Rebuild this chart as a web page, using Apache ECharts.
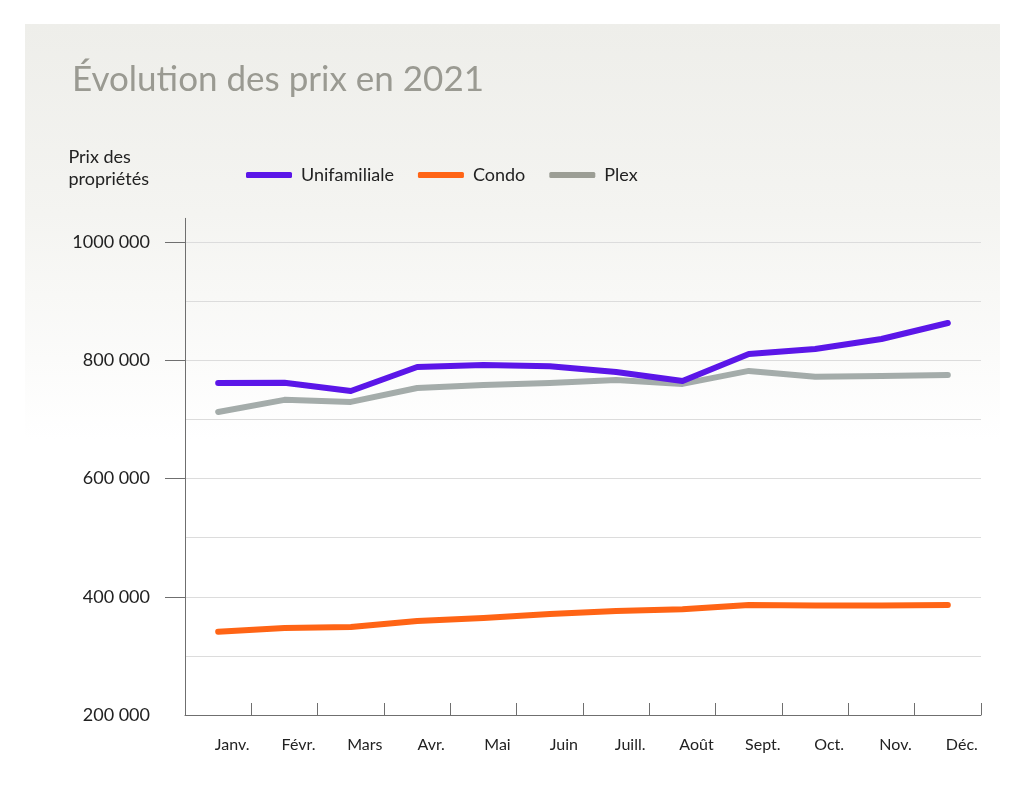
<!DOCTYPE html>
<html>
<head>
<meta charset="utf-8">
<script src="https://cdn.jsdelivr.net/npm/echarts@6/dist/echarts.min.js"></script>
<style>
html,body{margin:0;padding:0;background:#fff;}
#chart{width:1024px;height:791px;}
</style>
</head>
<body>
<div id="chart"></div>
<script>
const months = ['Janv.', 'Févr.', 'Mars', 'Avr.', 'Mai', 'Juin', 'Juill.', 'Août', 'Sept.', 'Oct.', 'Nov.', 'Déc.'];
const unifamiliale = [761500, 762000, 748000, 788500, 792000, 790000, 780000, 765000, 810500, 819000, 836000, 863000];
const condo = [341000, 347000, 349000, 359000, 364000, 371000, 376000, 379000, 386000, 385000, 385000, 386000];
const plex = [712500, 733000, 729500, 753000, 758000, 761500, 766500, 760000, 782000, 772000, 773500, 775000];
const yLabelValues = [200000, 400000, 600000, 800000, 1000000];
const yTickValues = [400000, 600000, 800000, 1000000];

const FONT = 'Lato, "DejaVu Sans", sans-serif';
function fmt(v) {
  const s = String(v);
  return s.slice(0, -3) + ' ' + s.slice(-3);
}

const chart = echarts.init(document.getElementById('chart'));
chart.setOption({
  backgroundColor: '#ffffff',
  animation: false,
  graphic: [{
    type: 'rect',
    left: 25, top: 24, z: -10,
    shape: { width: 975, height: 757 },
    style: {
      fill: {
        type: 'linear', x: 0, y: 0, x2: 0, y2: 1,
        colorStops: [
          { offset: 0, color: '#eeeeea' },
          { offset: 0.25, color: '#f4f4f1' },
          { offset: 0.55, color: '#ffffff' },
          { offset: 1, color: '#ffffff' }
        ]
      }
    }
  }, {
    type: 'text',
    left: 72, top: 62,
    style: { text: 'Évolution des prix en 2021', font: '400 35px ' + FONT, fill: '#9a9a92' }
  }, {
    type: 'text',
    right: 1024 - 149, top: 146,
    style: { text: 'Prix des\npropriétés', font: '400 18px ' + FONT, fill: '#222222', align: 'right', lineHeight: 22 }
  }],
  legend: {
    top: 161, left: 241,
    itemWidth: 46, itemHeight: 6, itemGap: 24,
    icon: 'roundRect',
    textStyle: { fontFamily: FONT, fontSize: 18, color: '#222222', padding: [0, 0, 0, 4] },
    data: [
      { name: 'Unifamiliale', itemStyle: { color: '#5b16e8' } },
      { name: 'Condo', itemStyle: { color: '#ff6415' } },
      { name: 'Plex', itemStyle: { color: '#9c9e95' } }
    ]
  },
  grid: { left: 185, right: 43, top: 218.35, bottom: 76, containLabel: false },
  xAxis: {
    type: 'category',
    data: months,
    boundaryGap: true,
    axisLine: { lineStyle: { color: '#6f6f6f', width: 1 } },
    axisTick: { show: true, inside: true, length: 12, lineStyle: { color: '#6f6f6f' } },
    axisLabel: { fontFamily: FONT, fontSize: 16, color: '#222222', margin: 22, padding: [0, 0, 0, 28] },
    splitLine: { show: false }
  },
  yAxis: [{
    type: 'value',
    min: 200000, max: 1040000, interval: 100000,
    axisLine: { show: false },
    axisTick: { show: false },
    axisLabel: { show: false },
    splitLine: { show: true, showMinLine: false, showMaxLine: false, lineStyle: { color: '#dcdcdc', width: 1 } }
  }, {
    type: 'value',
    position: 'left',
    min: 200000, max: 1040000, interval: 100000,
    axisLine: { show: true, lineStyle: { color: '#6f6f6f', width: 1 } },
    axisTick: { show: true, length: 20, customValues: yTickValues, lineStyle: { color: '#6f6f6f' } },
    axisLabel: { customValues: yLabelValues, formatter: fmt, fontFamily: FONT, fontSize: 18, color: '#222222', margin: 35 },
    splitLine: { show: false }
  }],
  series: [
    { name: 'Unifamiliale', type: 'line', data: unifamiliale, showSymbol: false, symbol: 'none',
      lineStyle: { color: '#5b16e8', width: 6, cap: 'round', join: 'round' }, itemStyle: { color: '#5b16e8' }, z: 3 },
    { name: 'Condo', type: 'line', data: condo, showSymbol: false, symbol: 'none',
      lineStyle: { color: '#ff6415', width: 6, cap: 'round', join: 'round' }, itemStyle: { color: '#ff6415' }, z: 3 },
    { name: 'Plex', type: 'line', data: plex, showSymbol: false, symbol: 'none',
      lineStyle: { color: '#a4acaa', width: 6, cap: 'round', join: 'round' }, itemStyle: { color: '#a4acaa' }, z: 2 }
  ]
});
</script>
</body>
</html>
